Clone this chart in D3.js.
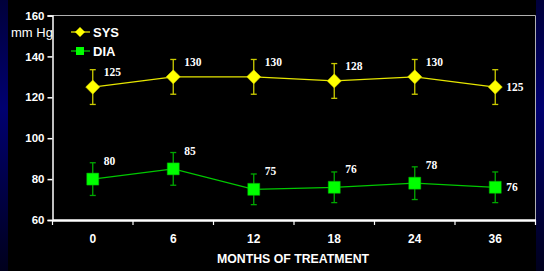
<!DOCTYPE html>
<html lang="en">
<head>
<meta charset="utf-8">
<title>Blood pressure over months of treatment</title>
<script src="https://d3js.org/d3.v7.js"></script>
<style>
  body { margin: 0; background: #000; }
  svg { display: block; }
</style>
</head>
<body>
<svg></svg>
<script>
  // data
  const months = ['0', '6', '12', '18', '24', '36'];
  const sys = [125, 130, 130, 128, 130, 125];
  const sysErr = [8.5, 8.5, 8.5, 8.5, 8.5, 8.5];
  const dia = [80, 85, 75, 76, 78, 76];
  const diaErr = [8, 8, 7.5, 7.5, 8, 7.5];
  const yTicks = [60, 80, 100, 120, 140, 160];

  const w = 544, h = 271;
  const margin = {top: 15.5, right: 8.5, bottom: 51, left: 52.5};

  const svg = d3.select('svg').attr('width', w).attr('height', h);

  // background with the blue side strips
  const defs = svg.append('defs');
  const grad = defs.append('linearGradient').attr('id', 'side')
      .attr('x1', 0).attr('y1', 0).attr('x2', 0).attr('y2', 1);
  grad.append('stop').attr('offset', '0%').attr('stop-color', '#00003a');
  grad.append('stop').attr('offset', '40%').attr('stop-color', '#000070');
  grad.append('stop').attr('offset', '100%').attr('stop-color', '#00001c');

  svg.append('rect').attr('width', w).attr('height', h).attr('fill', '#000');
  svg.append('rect').attr('x', 0).attr('width', 8).attr('height', h).attr('fill', 'url(#side)');
  svg.append('rect').attr('x', 536).attr('width', 8).attr('height', h).attr('fill', 'url(#side)');

  const x = d3.scaleBand().domain(months)
      .range([margin.left, w - margin.right]);
  const y = d3.scaleLinear().domain([60, 160])
      .range([h - margin.bottom, margin.top]);

  // frame (top and right)
  svg.append('path')
      .attr('d', `M${margin.left},${margin.top}H${w - margin.right}V${h - margin.bottom}`)
      .attr('fill', 'none').attr('stroke', '#b0b0b0').attr('stroke-width', 1);

  // y axis
  const yAxis = svg.append('g')
      .attr('transform', `translate(${margin.left},0)`)
      .call(d3.axisLeft(y).tickValues(yTicks).tickSize(5).tickPadding(3));
  yAxis.select('.domain').attr('stroke', '#fff').attr('stroke-width', 1.5);
  yAxis.selectAll('line').attr('stroke', '#fff').attr('stroke-width', 1.5);
  yAxis.selectAll('text').attr('fill', '#fff')
      .style('font', 'bold 11.5px "Liberation Sans", Arial, sans-serif');

  // x axis
  const xAxis = svg.append('g')
      .attr('transform', `translate(0,${h - margin.bottom})`)
      .call(d3.axisBottom(x).tickSize(0).tickPadding(14));
  xAxis.select('.domain').attr('stroke', '#fff').attr('stroke-width', 2.5);
  xAxis.selectAll('text').attr('fill', '#fff')
      .style('font', 'bold 12px "Liberation Sans", Arial, sans-serif');
  // tick marks between categories
  const edges = months.map(m => x(m)).concat([x.range()[1]]);
  xAxis.selectAll('.sep').data(edges).join('line')
      .attr('class', 'sep')
      .attr('x1', d => d).attr('x2', d => d)
      .attr('y1', 0).attr('y2', 5)
      .attr('stroke', '#fff').attr('stroke-width', 1.2);

  svg.append('text')
      .attr('x', 293).attr('y', 263)
      .attr('text-anchor', 'middle')
      .attr('fill', '#fff')
      .style('font', 'bold 12.3px "Liberation Sans", Arial, sans-serif')
      .text('MONTHS OF TREATMENT');

  svg.append('text')
      .attr('x', 11).attr('y', 36.5)
      .attr('fill', '#fff')
      .style('font', '13px "Liberation Sans", Arial, sans-serif')
      .text('mm Hg');

  const cx = m => x(m) + x.bandwidth() / 2;

  // diamond = square turned 45 degrees
  const marker = (shape, size) => d3.symbol().type(d3.symbolSquare).size(size)();
  const rot = shape => shape === 'diamond' ? ' rotate(45)' : '';

  function drawSeries(vals, errs, lineCol, errCol, fill, shape, size, labelDy) {
    const g = svg.append('g');
    const pts = months.map((m, i) => ({m, v: vals[i], e: errs[i], i}));
    g.append('path').datum(pts)
        .attr('fill', 'none').attr('stroke', lineCol).attr('stroke-width', 1.3)
        .attr('d', d3.line().x(d => cx(d.m)).y(d => y(d.v)));
    const eb = g.selectAll('.eb').data(pts).join('g');
    eb.append('line')
        .attr('x1', d => cx(d.m)).attr('x2', d => cx(d.m))
        .attr('y1', d => y(d.v + d.e)).attr('y2', d => y(d.v - d.e));
    eb.append('line')
        .attr('x1', d => cx(d.m) - 3).attr('x2', d => cx(d.m) + 3)
        .attr('y1', d => y(d.v + d.e)).attr('y2', d => y(d.v + d.e));
    eb.append('line')
        .attr('x1', d => cx(d.m) - 3).attr('x2', d => cx(d.m) + 3)
        .attr('y1', d => y(d.v - d.e)).attr('y2', d => y(d.v - d.e));
    eb.selectAll('line').attr('stroke', errCol).attr('stroke-width', 1.3);
    g.selectAll('.mk').data(pts).join('path')
        .attr('transform', d => `translate(${cx(d.m)},${y(d.v)})` + rot(shape))
        .attr('d', marker(shape, size))
        .attr('fill', fill).attr('stroke', errCol).attr('stroke-width', 0.5);
    g.selectAll('.lb').data(pts).join('text')
        .attr('x', d => cx(d.m) + 11)
        .attr('y', d => d.i === pts.length - 1 ? y(d.v) : y(d.v) + labelDy)
        .attr('dy', '0.35em')
        .attr('fill', '#fff')
        .style('font', 'bold 11.5px "Liberation Serif", "Times New Roman", serif')
        .text(d => d.v);
  }

  drawSeries(sys, sysErr, '#e6e600', '#cccc00', '#ffff00', 'diamond', 100, -15);
  drawSeries(dia, diaErr, '#00c800', '#00a800', '#00ff00', 'square', 144, -18);

  // legend
  const legend = [
    {name: 'SYS', line: '#e6e600', fill: '#ffff00', shape: 'diamond', size: 50, y: 32},
    {name: 'DIA', line: '#00c800', fill: '#00ff00', shape: 'square', size: 64, y: 51}
  ];
  const lg = svg.selectAll('.lg').data(legend).join('g')
      .attr('transform', d => `translate(0,${d.y})`);
  lg.append('line').attr('x1', 71).attr('x2', 90).attr('y1', 0).attr('y2', 0)
      .attr('stroke', d => d.line).attr('stroke-width', 1.3);
  lg.append('path').attr('transform', d => 'translate(80,0)' + rot(d.shape))
      .attr('d', d => marker(d.shape, d.size))
      .attr('fill', d => d.fill);
  lg.append('text').attr('x', 93).attr('y', 0).attr('dy', '0.36em')
      .attr('fill', '#fff')
      .style('font', 'bold 13px "Liberation Sans", Arial, sans-serif')
      .text(d => d.name);
</script>
</body>
</html>
